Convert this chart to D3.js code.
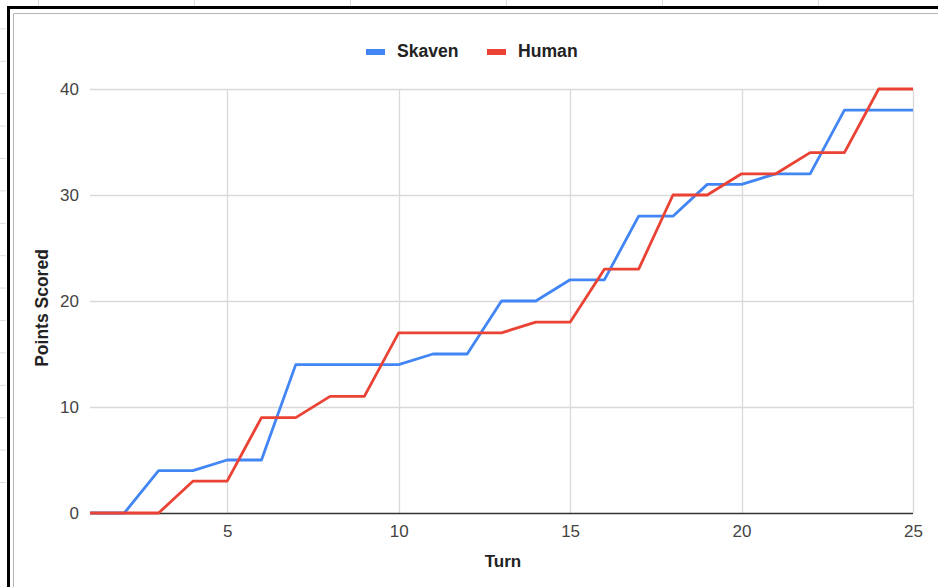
<!DOCTYPE html>
<html>
<head>
<meta charset="utf-8">
<script src="https://cdn.jsdelivr.net/npm/d3@7"></script>
<style>
  body { margin: 0; background: #fff; }
  svg { display: block; font-family: "Liberation Sans", Arial, sans-serif; }
</style>
</head>
<body>
<div id="chart"></div>
<script>
// data
var turns = [1,2,3,4,5,6,7,8,9,10,11,12,13,14,15,16,17,18,19,20,21,22,23,24,25];
var skaven = [0,0,4,4,5,5,14,14,14,14,15,15,20,20,22,22,28,28,31,31,32,32,38,38,38];
var human = [0,0,0,3,3,9,9,11,11,17,17,17,17,18,18,23,23,30,30,32,32,34,34,40,40];
var xTicks = [5,10,15,20,25];
var yTicks = [0,10,20,30,40];
var seriesNames = ["Skaven","Human"];
var seriesColors = ["#4285f4","#ea4335"];

var width = 938, height = 587;
var margin = {top: 89, right: 25, bottom: 74, left: 90};

var svg = d3.select("#chart").append("svg")
    .attr("width", width)
    .attr("height", height);

// faint spreadsheet cell lines outside the frame
for (var k = 0; k < 6; k++) {
    svg.append("line")
        .attr("x1", 38.5 + 156*k).attr("x2", 38.5 + 156*k)
        .attr("y1", 0).attr("y2", 6)
        .attr("stroke", "#ddd");
}
for (var j = 0; j < 15; j++) {
    svg.append("line")
        .attr("x1", 0).attr("x2", 6)
        .attr("y1", 482.5 - 32.4*j).attr("y2", 482.5 - 32.4*j)
        .attr("stroke", "#ddd");
}

// frame
svg.append("line").attr("x1", 8.5).attr("x2", 8.5).attr("y1", 7.5).attr("y2", height)
    .attr("stroke", "#000").attr("stroke-width", 3);
svg.append("line").attr("x1", 7).attr("x2", width).attr("y1", 7.5).attr("y2", 7.5)
    .attr("stroke", "#000").attr("stroke-width", 3);
svg.append("line").attr("x1", 13.5).attr("x2", 13.5).attr("y1", 13.5).attr("y2", height)
    .attr("stroke", "#b5b5b5").attr("stroke-width", 1);
svg.append("line").attr("x1", 13.5).attr("x2", width).attr("y1", 13.5).attr("y2", 13.5)
    .attr("stroke", "#b5b5b5").attr("stroke-width", 1);

var x = d3.scaleLinear()
    .domain([1, 25])
    .range([margin.left, width - margin.right]);

var y = d3.scaleLinear()
    .domain([0, 40])
    .range([height - margin.bottom, margin.top]);

// gridlines
svg.append("g").selectAll("line").data(yTicks.filter(function(d){ return d > 0; }))
    .enter().append("line")
    .attr("x1", x(1)).attr("x2", x(25))
    .attr("y1", function(d){ return Math.round(y(d)) + 0.5; })
    .attr("y2", function(d){ return Math.round(y(d)) + 0.5; })
    .attr("stroke", "#d9d9d9").attr("stroke-width", 1.3);

svg.append("g").selectAll("line").data(xTicks)
    .enter().append("line")
    .attr("x1", function(d){ return Math.round(x(d)) + 0.5; })
    .attr("x2", function(d){ return Math.round(x(d)) + 0.5; })
    .attr("y1", y(40)).attr("y2", y(0))
    .attr("stroke", "#d9d9d9").attr("stroke-width", 1.3);

// baseline
svg.append("line")
    .attr("x1", x(1)).attr("x2", x(25))
    .attr("y1", y(0) + 0.5).attr("y2", y(0) + 0.5)
    .attr("stroke", "#333").attr("stroke-width", 1.3);

// axes (labels only)
var yAxis = svg.append("g")
    .attr("transform", "translate(" + (margin.left - 1) + ",0)")
    .call(d3.axisLeft(y).tickValues(yTicks).tickSize(0).tickPadding(10));
yAxis.select(".domain").remove();
yAxis.selectAll("text").attr("font-size", 17).attr("fill", "#444")
    .attr("font-family", "Liberation Sans, Arial, sans-serif");

var xAxis = svg.append("g")
    .attr("transform", "translate(0," + y(0) + ")")
    .call(d3.axisBottom(x).tickValues(xTicks).tickSize(0).tickPadding(12));
xAxis.select(".domain").remove();
xAxis.selectAll("text").attr("font-size", 17).attr("fill", "#444")
    .attr("font-family", "Liberation Sans, Arial, sans-serif");

// lines
var line = d3.line()
    .x(function(d){ return x(d[0]); })
    .y(function(d){ return y(d[1]); });

var series = [skaven, human];
series.forEach(function(vals, i) {
    svg.append("path")
        .datum(turns.map(function(t, k){ return [t, vals[k]]; }))
        .attr("d", line)
        .attr("fill", "none")
        .attr("stroke", seriesColors[i])
        .attr("stroke-width", 2.8)
        .attr("stroke-linejoin", "round");
});

// axis titles
svg.append("text")
    .attr("x", 503).attr("y", 567)
    .attr("text-anchor", "middle")
    .attr("font-size", 17).attr("font-weight", "bold").attr("fill", "#222")
    .text("Turn");

svg.append("text")
    .attr("transform", "translate(48,308) rotate(-90)")
    .attr("text-anchor", "middle")
    .attr("font-size", 17.5).attr("font-weight", "bold").attr("fill", "#222")
    .text("Points Scored");

// legend
var legendX = [366, 487];
var legend = svg.append("g").selectAll("g").data(seriesNames)
    .enter().append("g")
    .attr("transform", function(d, i){ return "translate(" + legendX[i] + ",0)"; });
legend.append("rect")
    .attr("x", 0).attr("y", 49)
    .attr("width", 19).attr("height", 6)
    .attr("fill", function(d, i){ return seriesColors[i]; });
legend.append("text")
    .attr("x", 31).attr("y", 57)
    .attr("font-size", 17.6).attr("font-weight", "bold").attr("fill", "#222")
    .text(function(d){ return d; });
</script>
</body>
</html>
